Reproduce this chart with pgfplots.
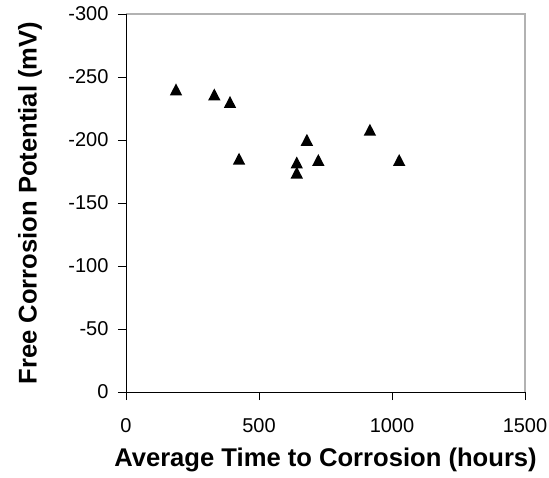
\documentclass[border=0pt]{standalone}
\usepackage{pgfplots}
\pgfplotsset{compat=1.18}
\usepackage{fontspec}
\setmainfont{Liberation Sans}

% filled triangle centred on its bounding box
\pgfdeclareplotmark{boxtri}{%
  \pgfpathmoveto{\pgfqpoint{0pt}{6.2pt}}%
  \pgfpathlineto{\pgfqpoint{6.2pt}{-5.8pt}}%
  \pgfpathlineto{\pgfqpoint{-6.2pt}{-5.8pt}}%
  \pgfpathclose
  \pgfusepathqfill}

\begin{document}
\begin{tikzpicture}
\begin{axis}[
  scale only axis,
  width=399pt, height=378pt,
  xmin=0, xmax=1500,
  ymin=-300, ymax=0,
  y dir=reverse,
  axis line style={draw=none},
  xtick={0,500,1000,1500},
  xticklabels={0,500,1000,1500},
  ytick={-300,-250,-200,-150,-100,-50,0},
  yticklabels={-300,-250,-200,-150,-100,-50,0},
  tick align=outside,
  major tick length=8pt,
  tick style={black, line width=0.8pt},
  xtick pos=bottom, ytick pos=left,
  ticklabel style={font=\fontsize{20}{23}\selectfont},
  xticklabel style={yshift=-15pt},
  yticklabel style={xshift=-6pt},
  xlabel={\textbf{Average Time to Corrosion (hours)}},
  ylabel={\textbf{Free Corrosion Potential (mV)}},
  label style={font=\fontsize{25.6}{28}\selectfont},
  xlabel style={at={(axis description cs:0.5,-0.1984)}, anchor=base},
  ylabel style={at={(axis description cs:-0.2406,0.5)}, anchor=center},
  clip=false,
]
% frame: grey top and right, black left and bottom
\draw[gray!60, line width=1.2pt] (axis cs:0,-300) -- (axis cs:1500,-300) -- (axis cs:1500,0);
\draw[black, line width=0.8pt] (axis cs:0,-300) -- (axis cs:0,0) -- (axis cs:1500,0);

\addplot[only marks, mark=boxtri, black] coordinates {
  (188,-240) (332,-236) (391,-230) (425,-185) (680,-200)
  (642,-182) (642,-174) (723,-184) (917,-208) (1027,-184)
};
\end{axis}
\pgfresetboundingbox
\path[use as bounding box]
  ([shift={(-126pt,-86pt)}]current axis.south west)
  rectangle ([shift={(24pt,14pt)}]current axis.north east);
\end{tikzpicture}
\end{document}
